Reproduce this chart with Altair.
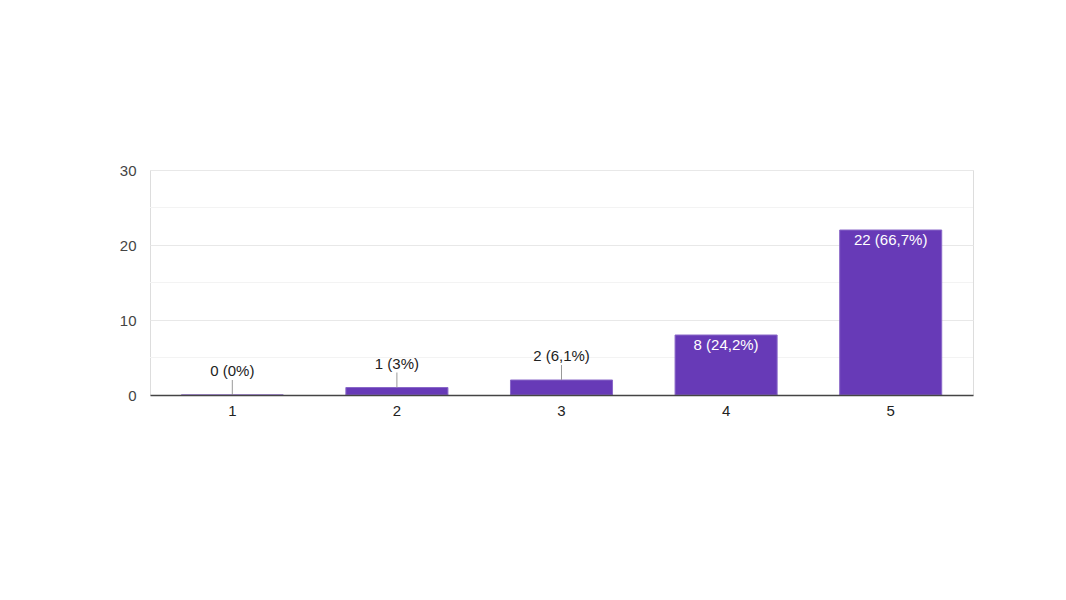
import altair as alt
import pandas as pd

categories = ["1", "2", "3", "4", "5"]
counts = [0, 1, 2, 8, 22]
labels = ["0 (0%)", "1 (3%)", "2 (6,1%)", "8 (24,2%)", "22 (66,7%)"]
major_ticks = [0, 10, 20, 30]
minor_ticks = [5, 15, 25]

df = pd.DataFrame({"cat": categories, "count": counts, "label": labels})
minor_df = pd.DataFrame({"v": minor_ticks})

FONT = "Liberation Sans"

x = alt.X("cat:N", sort=categories,
          scale=alt.Scale(paddingInner=0.38, paddingOuter=0.19),
          axis=alt.Axis(title=None, labelAngle=0, ticks=False, domainColor="#444444",
                        domainWidth=1.5, labelColor="#222222", labelFontSize=15,
                        labelFont=FONT, labelPadding=8, grid=False, zindex=2))
y = alt.Y("count:Q", scale=alt.Scale(domain=[0, 30], nice=False),
          axis=alt.Axis(title=None, values=major_ticks, ticks=False,
                        domain=False, labelColor="#444444", labelFontSize=15,
                        labelFont=FONT, labelPadding=14, gridColor="#e8e8e8"))

base = alt.Chart(df)

minor = alt.Chart(minor_df).mark_rule(color="#f3f3f3", strokeWidth=1).encode(
    y=alt.Y("v:Q", scale=alt.Scale(domain=[0, 30], nice=False)))

bars = base.mark_bar(color="#673ab7", stroke="#8a68c8", strokeWidth=1).encode(x=x, y=y)

small = base.transform_filter("datum.count < 5")
leaders = small.transform_calculate(top="datum.count + 2").mark_rule(
    color="#999999", strokeWidth=1
).encode(x=alt.X("cat:N", sort=categories), y="count:Q", y2="top:Q")

above = small.mark_text(baseline="bottom", dy=-16, fontSize=15, font=FONT,
                        color="#222222").encode(
    x=alt.X("cat:N", sort=categories), y="count:Q", text="label:N")

inside = base.transform_filter("datum.count >= 5").mark_text(
    baseline="top", dy=3, fontSize=15, font=FONT, color="#ffffff").encode(
    x=alt.X("cat:N", sort=categories), y="count:Q", text="label:N")

chart = alt.layer(minor, bars, leaders, above, inside).properties(
    width=823, height=225,
    autosize=alt.AutoSizeParams(type="none"),
    padding={"left": 142, "top": 162, "right": 20, "bottom": 60},
).configure_view(stroke="#ebebeb", strokeWidth=1).configure(background="white")

chart.save("out.html", embed_options={"renderer": "svg", "actions": False})
